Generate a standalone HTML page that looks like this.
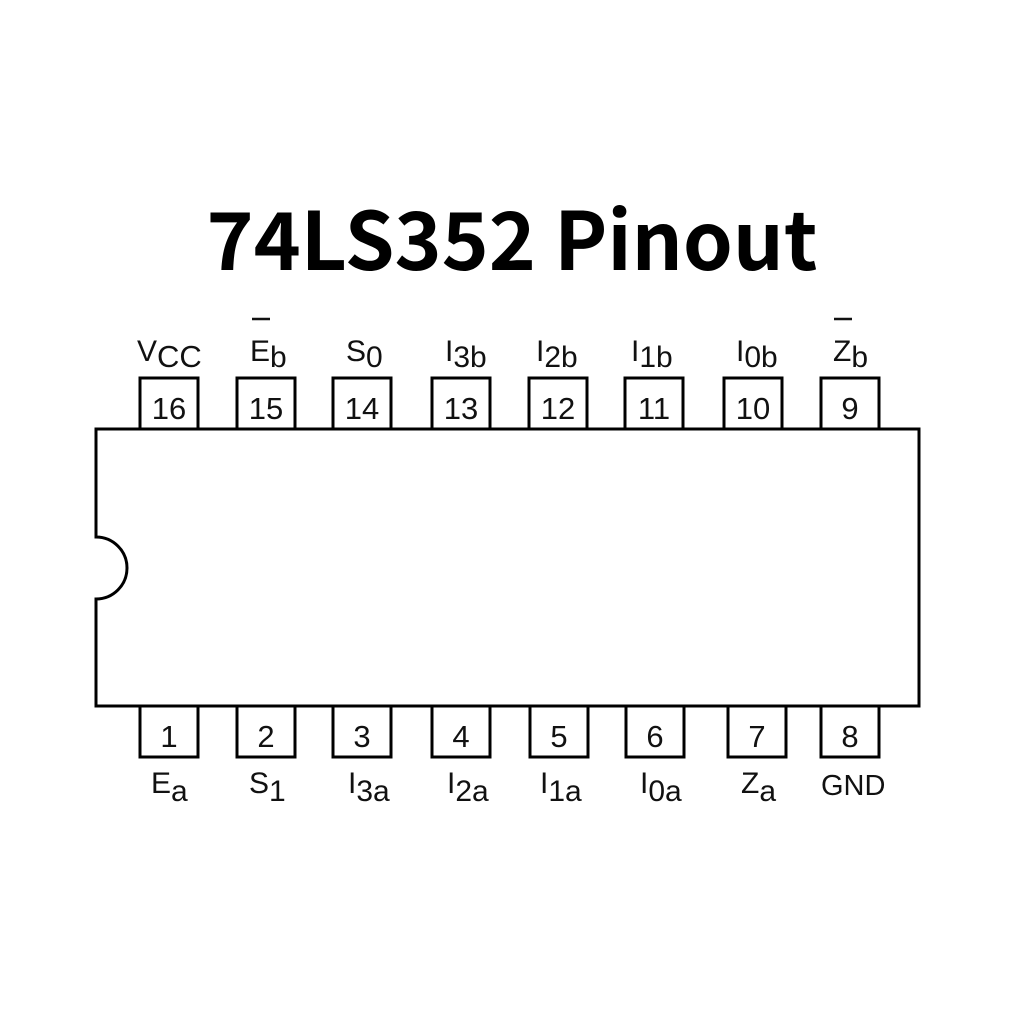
<!DOCTYPE html>
<html><head><meta charset="utf-8"><style>
html,body{margin:0;padding:0;background:#fff;width:1024px;height:1024px;overflow:hidden}
svg text{font-family:"Liberation Sans",sans-serif;fill:#111}
</style></head><body>
<svg width="1024" height="1024" viewBox="0 0 1024 1024" xmlns="http://www.w3.org/2000/svg">
<text x="512" y="270" text-anchor="middle" textLength="611" lengthAdjust="spacingAndGlyphs" style="font-family:'Noto Sans CJK JP','Liberation Sans',sans-serif;font-weight:bold;font-size:80px;fill:#000">74LS352 Pinout</text>
<g fill="#fff" stroke="#000" stroke-width="3">
<path d="M96 429 H919 V706 H96 V599 A31 31 0 0 0 96 537 Z"/>
<rect x="140" y="378" width="58" height="51"/>
<rect x="237" y="378" width="58" height="51"/>
<rect x="333" y="378" width="58" height="51"/>
<rect x="432" y="378" width="58" height="51"/>
<rect x="529" y="378" width="58" height="51"/>
<rect x="625" y="378" width="58" height="51"/>
<rect x="724" y="378" width="58" height="51"/>
<rect x="821" y="378" width="58" height="51"/>
<rect x="140" y="706" width="58" height="51"/>
<rect x="237" y="706" width="58" height="51"/>
<rect x="333" y="706" width="58" height="51"/>
<rect x="432" y="706" width="58" height="51"/>
<rect x="530" y="706" width="58" height="51"/>
<rect x="626" y="706" width="58" height="51"/>
<rect x="728" y="706" width="58" height="51"/>
<rect x="821" y="706" width="58" height="51"/>
</g>
<g font-size="31" text-anchor="middle">
<text x="169" y="419">16</text><text x="266" y="419">15</text><text x="362" y="419">14</text><text x="461" y="419">13</text>
<text x="558" y="419">12</text><text x="654" y="419">11</text><text x="753" y="419">10</text><text x="850" y="419">9</text>
<text x="169" y="747">1</text><text x="266" y="747">2</text><text x="362" y="747">3</text><text x="461" y="747">4</text>
<text x="559" y="747">5</text><text x="655" y="747">6</text><text x="757" y="747">7</text><text x="850" y="747">8</text>
</g>
<g font-size="30">
<text x="137" y="361">V<tspan font-size="31" dy="6">CC</tspan></text>
<text x="250" y="361">E<tspan dy="6">b</tspan></text>
<text x="346" y="361">S<tspan dy="6">0</tspan></text>
<text x="445" y="361">I<tspan dy="6">3b</tspan></text>
<text x="536" y="361">I<tspan dy="6">2b</tspan></text>
<text x="631" y="361">I<tspan dy="6">1b</tspan></text>
<text x="736" y="361">I<tspan dy="6">0b</tspan></text>
<text x="833" y="361">Z<tspan dy="6">b</tspan></text>
<text x="151" y="793">E<tspan dy="8">a</tspan></text>
<text x="249" y="793">S<tspan dy="8">1</tspan></text>
<text x="348" y="793">I<tspan dy="8">3a</tspan></text>
<text x="447" y="793">I<tspan dy="8">2a</tspan></text>
<text x="540" y="793">I<tspan dy="8">1a</tspan></text>
<text x="640" y="793">I<tspan dy="8">0a</tspan></text>
<text x="741" y="793">Z<tspan dy="8">a</tspan></text>
<text x="821" y="795" font-size="29">GND</text>
</g>
<g stroke="#111" stroke-width="2.5">
<line x1="252" y1="319" x2="270" y2="319"/>
<line x1="834" y1="319" x2="852" y2="319"/>
</g>
</svg>
</body></html>
